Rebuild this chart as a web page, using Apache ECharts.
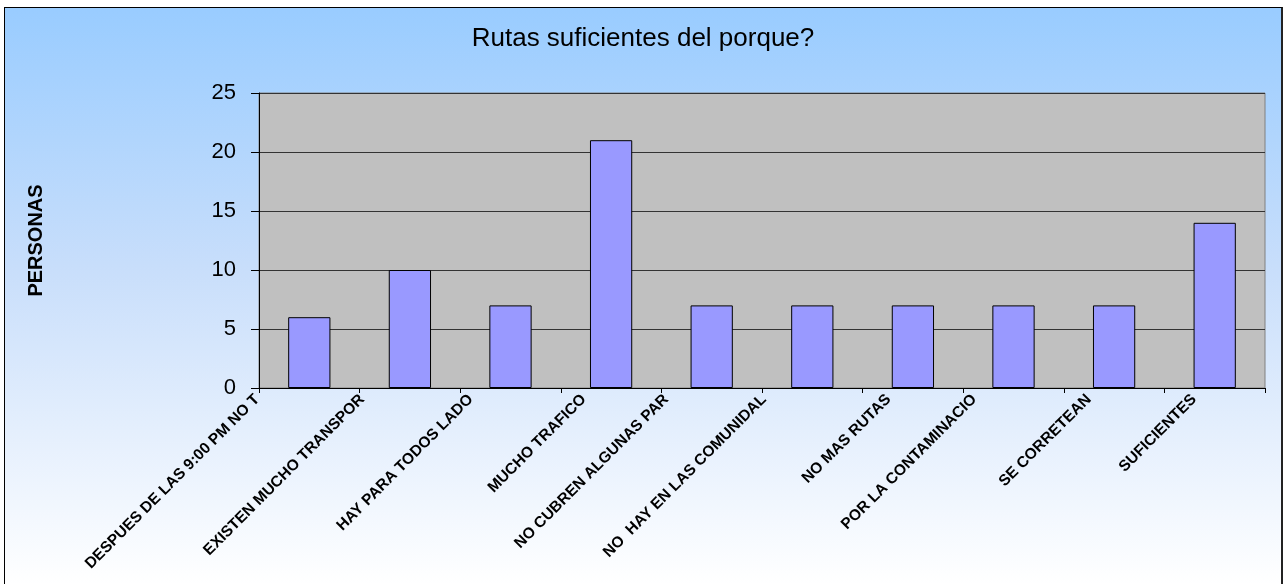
<!DOCTYPE html>
<html>
<head>
<meta charset="utf-8">
<script src="https://cdn.jsdelivr.net/npm/echarts@6/dist/echarts.min.js"></script>
<style>
html,body{margin:0;padding:0;background:#fff;}
#c{position:absolute;left:4px;top:7px;width:1276px;height:577px;border-left:1px solid #000;border-top:1px solid #000;border-right:2px solid #222;}
</style>
</head>
<body>
<div id="c"></div>
<script>
const categories = [
  "DESPUES DE LAS 9:00 PM NO T",
  "EXISTEN MUCHO TRANSPOR",
  "HAY PARA TODOS LADO",
  "MUCHO TRAFICO",
  "NO CUBREN ALGUNAS PAR",
  "NO  HAY EN LAS COMUNIDAL",
  "NO MAS RUTAS",
  "POR LA CONTAMINACIO",
  "SE CORRETEAN",
  "SUFICIENTES"
];
const values = [6, 10, 7, 21, 7, 7, 7, 7, 7, 14];
const yTicks = [0, 5, 10, 15, 20, 25];

const LABEL_FONT = 'bold 15.5px "Liberation Sans"';
// Excel-like placement of rotated labels: longer labels sit further left of the category centre.
const ctx = document.createElement('canvas').getContext('2d');
ctx.font = LABEL_FONT;
const rich = {};
categories.forEach(function (c, i) {
  const w = ctx.measureText(c).width;
  const shift = Math.max(0, 0.23 * w - 3);
  const p = shift / Math.SQRT2;
  rich['s' + i] = {
    fontFamily: 'Liberation Sans', fontWeight: 'bold', fontSize: 15.5, color: '#000',
    padding: [0, p, 2 * p, 0]
  };
});

const chart = echarts.init(document.getElementById('c'));
chart.setOption({
  animation: false,
  backgroundColor: new echarts.graphic.LinearGradient(0, 0, 0, 1, [
    {offset: 0, color: '#99CCFF'},
    {offset: 0.45, color: '#C8DEFB'},
    {offset: 1, color: '#FFFFFF'}
  ]),
  title: {
    text: 'Rutas suficientes del porque?',
    left: 'center',
    top: 13,
    textStyle: {fontFamily: 'Liberation Sans', fontWeight: 'normal', fontSize: 26, color: '#000'}
  },
  grid: {left: 254, right: 16, top: 85, bottom: 197, show: true, backgroundColor: '#C0C0C0', borderColor: '#808080', borderWidth: 1},
  xAxis: {
    type: 'category',
    data: categories,
    axisLine: {lineStyle: {color: '#000', width: 1}},
    axisTick: {show: true, alignWithLabel: false, length: 5, lineStyle: {color: '#000'}},
    axisLabel: {
      rotate: 45, interval: 0, margin: 9,
      fontFamily: 'Liberation Sans', fontWeight: 'bold', fontSize: 15.5, color: '#000',
      formatter: function (v, i) { return '{s' + i + '|' + v + '}'; },
      rich: rich
    }
  },
  yAxis: {
    type: 'value',
    min: yTicks[0], max: yTicks[yTicks.length - 1], interval: 5,
    name: 'PERSONAS',
    nameLocation: 'middle',
    nameGap: 213,
    nameRotate: 90,
    nameTextStyle: {fontFamily: 'Liberation Sans', fontWeight: 'bold', fontSize: 20, color: '#000'},
    axisLine: {show: true, lineStyle: {color: '#000'}},
    axisTick: {show: true, length: 8, lineStyle: {color: '#000'}},
    axisLabel: {fontFamily: 'Liberation Sans', fontSize: 22, color: '#000', margin: 23},
    splitLine: {lineStyle: {color: '#333', width: 1}}
  },
  series: [{
    type: 'bar',
    data: values,
    barWidth: '42%',
    itemStyle: {color: '#9999FF', borderColor: '#000', borderWidth: 1}
  }]
});
</script>
</body>
</html>
